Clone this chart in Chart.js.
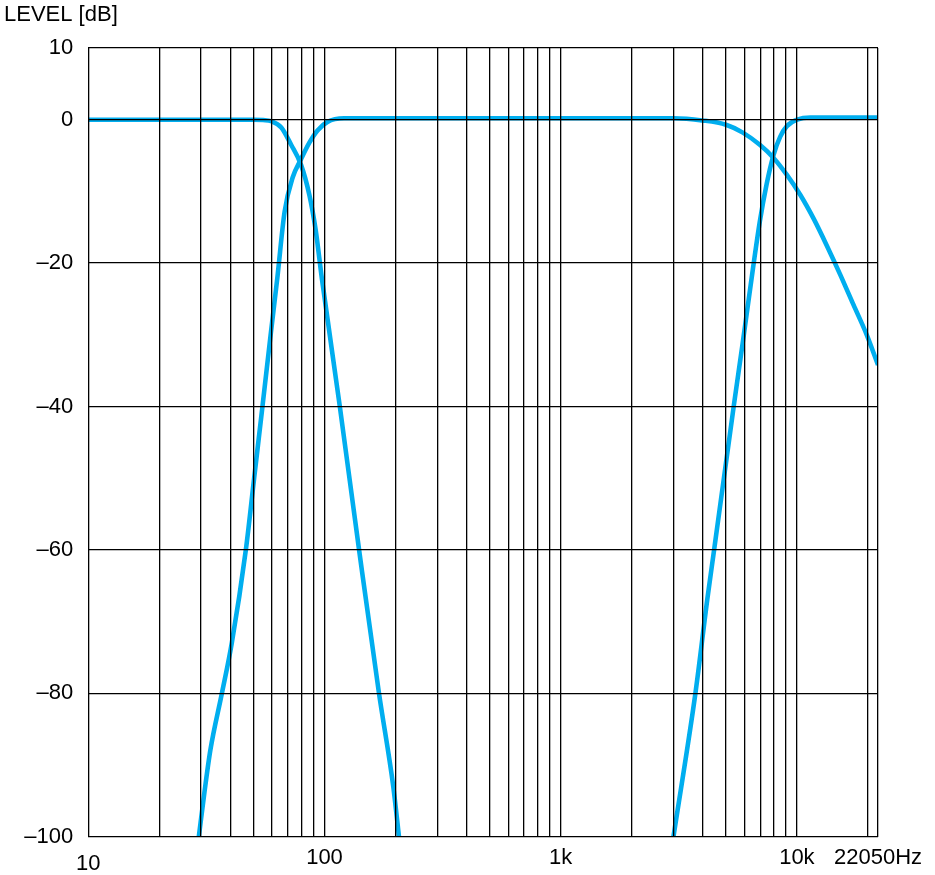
<!DOCTYPE html>
<html>
<head>
<meta charset="utf-8">
<script src="https://cdn.jsdelivr.net/npm/chart.js@4/dist/chart.umd.min.js"></script>
<style>
html, body { margin: 0; padding: 0; background: #ffffff; }
canvas { display: block; }
</style>
</head>
<body>
<canvas id="c" width="935" height="875"></canvas>
<script>
// Tick values (gridlines) and labels
const xGridValues = [10, 20, 30, 40, 50, 60, 70, 80, 90,
  100, 200, 300, 400, 500, 600, 700, 800, 900,
  1000, 2000, 3000, 4000, 5000, 6000, 7000, 8000, 9000,
  10000, 20000, 22050];
const xTickLabels = { 10: '10', 100: '100', 1000: '1k', 10000: '10k', 22050: '22050Hz' };
const yTickValues = [-100, -80, -60, -40, -20, 0, 10];

// Low-pass ~80 Hz
const lpFreq  = [10, 50, 55, 59.4, 65.6, 72.24, 79.57, 86.29, 91.68, 97.43, 116.0, 140.1, 170.1, 195.5, 206.7];
const lpLevel = [0, 0, -0.05, -0.2, -1.1, -3.5, -6.3, -10.5, -15.3, -22.1, -39.9, -60, -80, -93, -100];

// Band: high-pass ~80 Hz, flat, gentle roll-off at the top
const bpFreq  = [29.37, 30.97, 32.88, 36.78, 40.50, 46.45, 50.36, 54.62, 59.16, 63.12, 67.8, 73.44, 79.57, 86.29, 93.43, 102.96, 121.1,
  1000, 3000, 3972, 5010, 5904, 6966, 7950, 9073, 10345, 11772, 13409, 15255, 17353, 19757, 22050];
const bpLevel = [-100, -94, -87.9, -80, -73, -60, -50, -40, -30, -22.1, -12.8, -8.0, -5.5, -3.2, -1.5, -0.3, 0.2,
  0.2, 0.2, -0.1, -0.7, -1.8, -3.5, -5.3, -7.7, -10.5, -13.8, -17.6, -21.6, -25.8, -30.0, -34.2];

// High-pass ~8 kHz
const hpFreq  = [3002, 3722, 4175, 4462, 5406, 5904, 6520, 6966, 7444, 7950, 8492, 9073, 10020, 11400, 22050];
const hpLevel = [-100, -79.9, -66.9, -60, -39.9, -31.0, -20.7, -14.2, -9.0, -5.0, -2.4, -0.9, 0, 0.3, 0.3];

function toPoints(freqs, levels) {
  return freqs.map((f, i) => ({ x: f, y: levels[i] }));
}

const FONT = "'Liberation Sans', Arial, Helvetica, sans-serif";
const LINE_COLOR = '#00aeef';

function ds(freqs, levels) {
  return {
    data: toPoints(freqs, levels),
    borderColor: LINE_COLOR,
    backgroundColor: LINE_COLOR,
    borderWidth: 4.6,
    pointRadius: 0,
    pointHoverRadius: 0,
    fill: false,
    cubicInterpolationMode: 'monotone',
    borderCapStyle: 'butt',
    borderJoinStyle: 'round',
    clip: 0
  };
}

new Chart(document.getElementById('c'), {
  type: 'line',
  data: {
    datasets: [ds(lpFreq, lpLevel), ds(bpFreq, bpLevel), ds(hpFreq, hpLevel)]
  },
  options: {
    responsive: false,
    animation: false,
    devicePixelRatio: 1,
    layout: { padding: { left: 4, right: 57, top: 0, bottom: 0 } },
    plugins: {
      legend: { display: false },
      tooltip: { enabled: false },
      title: {
        display: true,
        text: 'LEVEL [dB]',
        align: 'start',
        color: '#000',
        font: { family: FONT, size: 22, weight: 'normal' },
        padding: { top: 2, bottom: 19.6 }
      }
    },
    scales: {
      x: {
        type: 'logarithmic',
        min: 10,
        max: 22050,
        afterBuildTicks: (s) => { s.ticks = xGridValues.map(v => ({ value: v })); },
        afterFit: (s) => { s.height = 38.3; },
        grid: { color: '#000', lineWidth: 1.3, drawTicks: false, z: 1 },
        border: { display: false },
        ticks: {
          autoSkip: false,
          maxRotation: 0,
          minRotation: 0,
          padding: 8,
          color: '#000',
          font: (ctx) => ({ family: FONT, size: 22, lineHeight: ctx.index === 0 ? 1.71 : 1.2 }),
          callback: (v) => xTickLabels[v] || ''
        }
      },
      y: {
        type: 'linear',
        min: -100,
        max: 10,
        afterBuildTicks: (s) => { s.ticks = yTickValues.map(v => ({ value: v })); },
        afterFit: (s) => { s.width = 84.3; },
        grid: { color: '#000', lineWidth: 1.3, drawTicks: false, z: 1 },
        border: { display: false },
        ticks: {
          padding: 15,
          color: '#000',
          font: { family: FONT, size: 22 },
          callback: (v) => (v < 0 ? '\u2013' + Math.abs(v) : String(v))
        }
      }
    }
  }
});
</script>
</body>
</html>
